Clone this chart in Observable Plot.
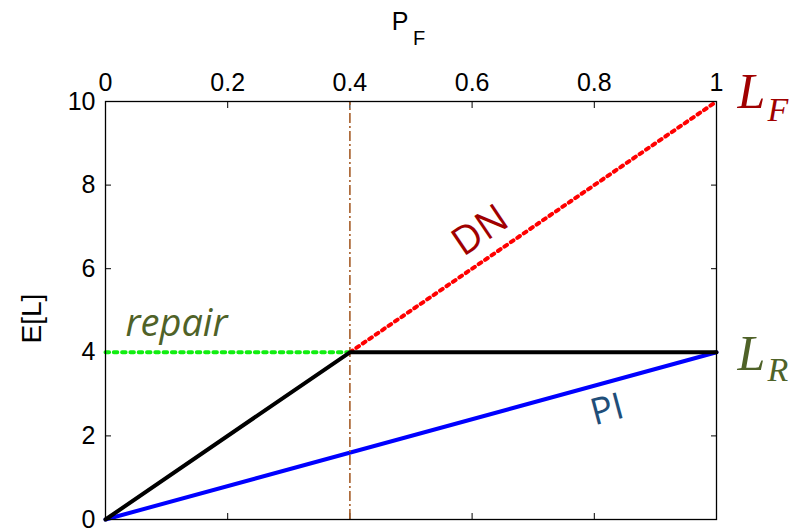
<!DOCTYPE html>
<html>
<head>
<meta charset="utf-8">
<script src="https://cdn.jsdelivr.net/npm/d3@7"></script>
<script src="https://cdn.jsdelivr.net/npm/@observablehq/plot@0.6"></script>
<style>
  html, body { margin: 0; padding: 0; background: #fff; }
  #chart svg { display: block; }
</style>
</head>
<body>
<div id="chart"></div>
<script>
// ---- data ----
const xTicks = [0, 0.2, 0.4, 0.6, 0.8, 1];
const yTicks = [0, 2, 4, 6, 8, 10];
const pThreshold = 0.4;            // vertical dash-dot line
const LF = 10, LR = 4;             // loss values
// optimal policy (black)
const optX = [0, 0.4, 1];
const optY = [0, 4, 4];
// PI (blue)
const piX = [0, 1];
const piY = [0, 4];
// DN (red dotted)
const dnX = [0.4, 1];
const dnY = [4, 10];
// repair (green dotted)
const repX = [0, 0.4];
const repY = [4, 4];

const toPts = (xs, ys) => xs.map((x, i) => ({x, y: ys[i]}));

const sans = "'Liberation Sans', Arial, Helvetica, sans-serif";
const serif = "'Liberation Serif', 'DejaVu Serif', serif";
const calib = "'Open Sans', 'Noto Sans', sans-serif";

const chart = Plot.plot({
  width: 802,
  height: 528,
  marginLeft: 105,
  marginRight: 86,
  marginTop: 101,
  marginBottom: 9,
  style: {fontFamily: sans, background: "#fff", overflow: "visible"},
  x: {domain: [0, 1]},
  y: {domain: [0, 10]},
  marks: [
    // tick labels
    Plot.axisX(xTicks, {anchor: "top", tickSize: 0, tickPadding: 11, fontSize: 25, label: null, tickFormat: d => String(d)}),
    Plot.axisY(yTicks, {anchor: "left", tickSize: 0, tickPadding: 10, fontSize: 25, label: null, tickFormat: d => String(d)}),
    // inward ticks on all four sides
    Plot.axisX(xTicks, {anchor: "top", tickSize: -6, text: null, label: null, stroke: "#000"}),
    Plot.axisX(xTicks, {anchor: "bottom", tickSize: -6, text: null, label: null, stroke: "#000"}),
    Plot.axisY(yTicks, {anchor: "left", tickSize: -6, text: null, label: null, stroke: "#000"}),
    Plot.axisY(yTicks, {anchor: "right", tickSize: -6, text: null, label: null, stroke: "#000"}),
    // lines
    Plot.line(toPts(piX, piY), {x: "x", y: "y", stroke: "#0000ff", strokeWidth: 4}),
    Plot.line(toPts(repX, repY), {x: "x", y: "y", stroke: "#11ee11", strokeWidth: 4, strokeDasharray: "3.5,4.8"}),
    Plot.line(toPts(dnX, dnY), {x: "x", y: "y", stroke: "#ff0000", strokeWidth: 4, strokeDasharray: "3.2,4.6"}),
    Plot.ruleX([pThreshold], {y1: 0, y2: LF, stroke: "#a65d28", strokeWidth: 1.6, strokeDasharray: "10,3,2,3"}),
    Plot.line(toPts(optX, optY), {x: "x", y: "y", stroke: "#000", strokeWidth: 4}),
    Plot.frame({stroke: "#000", strokeWidth: 1.3}),
    // axis titles
    Plot.text(["P"], {frameAnchor: "top", lineAnchor: "bottom", dx: -11, dy: -72, fontSize: 25, fontFamily: sans, fill: "#000"}),
    Plot.text(["F"], {frameAnchor: "top", lineAnchor: "bottom", dx: 8, dy: -57, fontSize: 20, fontFamily: sans, fill: "#000"}),
    Plot.text(["E[L]"], {frameAnchor: "left", dx: -73, dy: 33, rotate: -90, fontSize: 28, fontFamily: sans, fill: "#000"}),
    // right-side labels
    Plot.text([{x: 1, y: LF}], {x: "x", y: "y", text: () => "L", textAnchor: "start", lineAnchor: "bottom", dx: 21, dy: 6, fontSize: 50, fontStyle: "italic", fontFamily: serif, fill: "#a00000"}),
    Plot.text([{x: 1, y: LF}], {x: "x", y: "y", text: () => "F", textAnchor: "start", lineAnchor: "bottom", dx: 51, dy: 19, fontSize: 34, fontStyle: "italic", fontFamily: serif, fill: "#a00000"}),
    Plot.text([{x: 1, y: LR}], {x: "x", y: "y", text: () => "L", textAnchor: "start", lineAnchor: "bottom", dx: 21, dy: 18, fontSize: 50, fontStyle: "italic", fontFamily: serif, fill: "#4f6228"}),
    Plot.text([{x: 1, y: LR}], {x: "x", y: "y", text: () => "R", textAnchor: "start", lineAnchor: "bottom", dx: 51, dy: 29, fontSize: 34, fontStyle: "italic", fontFamily: serif, fill: "#4f6228"}),
    // in-plot labels
    Plot.text([{x: 0, y: LR}], {x: "x", y: "y", text: () => "repair", textAnchor: "start", lineAnchor: "bottom", dx: 20, dy: -16, fontSize: 38, fontStyle: "italic", fontFamily: calib, fill: "#4f6228"}),
    Plot.text([{x: 0.6, y: 6}], {x: "x", y: "y", text: () => "DN", textAnchor: "middle", lineAnchor: "middle", dx: 8, dy: -38, rotate: -34, fontSize: 39, fontFamily: calib, fill: "#a00000"}),
    Plot.text([{x: 0.8, y: 3.2}], {x: "x", y: "y", text: () => "PI", textAnchor: "middle", lineAnchor: "middle", dx: 13, dy: 24, rotate: -15, fontSize: 37, fontFamily: calib, fill: "#1f4e79"})
  ]
});
document.getElementById("chart").appendChild(chart);
</script>
</body>
</html>
